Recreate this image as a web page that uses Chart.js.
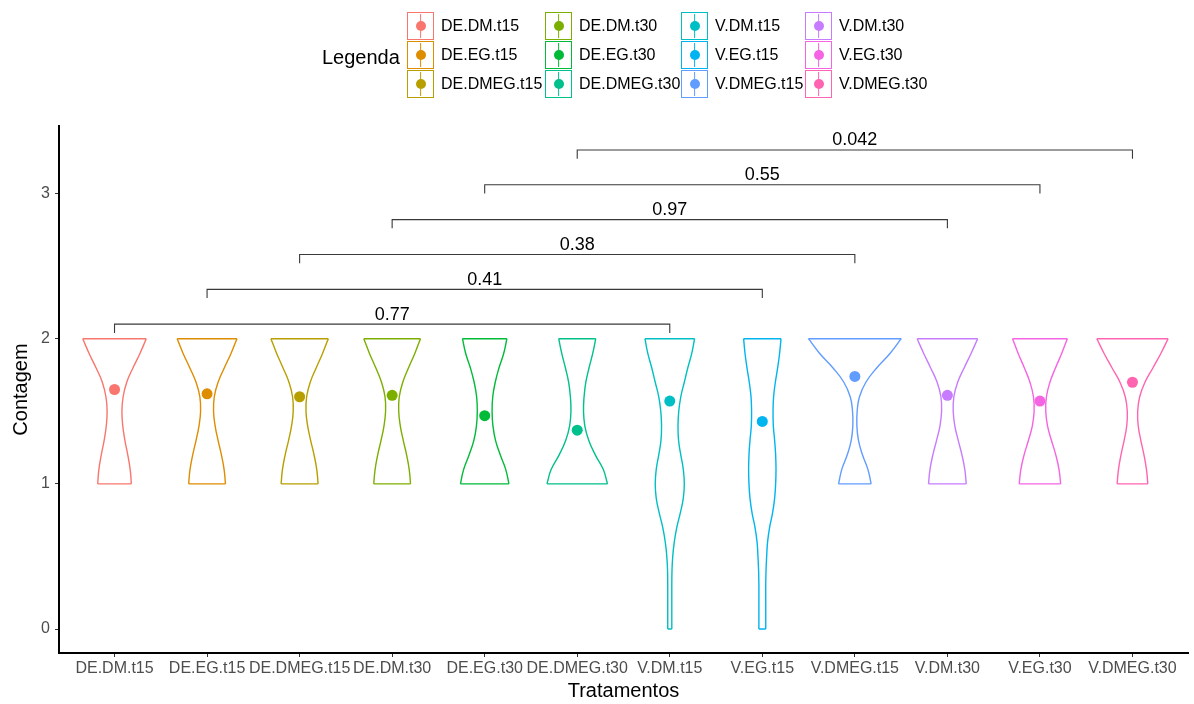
<!DOCTYPE html>
<html>
<head>
<meta charset="utf-8">
<script src="https://cdn.jsdelivr.net/npm/chart.js@4.4.1/dist/chart.umd.min.js"></script>
<style>
  html, body { margin: 0; padding: 0; background: #ffffff; }
  #wrap { position: relative; width: 1194px; height: 704px; overflow: hidden; }
  #chart { position: absolute; left: 0; top: 0; }
  #legend { position: absolute; left: 0; top: 0; width: 1194px; height: 110px; font-family: "Liberation Sans", Arial, sans-serif; }
  .ltitle { position: absolute; left: 322px; top: 45px; line-height: 24px; font-size: 20px; color: #000; }
  .litem { position: absolute; height: 28px; display: flex; align-items: center; }
  .key { position: relative; width: 27px; height: 28px; box-sizing: border-box; border: 1.2px solid; background: #fff; }
  .stem { position: absolute; left: 50%; top: 1px; bottom: 1px; width: 1.8px; transform: translateX(-50%); }
  .dot { position: absolute; left: 50%; top: 50%; width: 10px; height: 10px; border-radius: 50%; transform: translate(-50%, -50%); }
  .txt { margin-left: 7px; font-size: 16px; color: #000; white-space: nowrap; }
</style>
</head>
<body>
<div id="wrap">
  <canvas id="chart" width="1194" height="704"></canvas>
  <div id="legend"></div>
</div>
<script>
// Treatment groups, in axis order
const categories = ['DE.DM.t15', 'DE.EG.t15', 'DE.DMEG.t15', 'DE.DM.t30', 'DE.EG.t30', 'DE.DMEG.t30',
                    'V.DM.t15', 'V.EG.t15', 'V.DMEG.t15', 'V.DM.t30', 'V.EG.t30', 'V.DMEG.t30'];
const seriesColors = ['#F8766D', '#DE8C00', '#B79F00', '#7CAE00', '#00BA38', '#00C08B',
                      '#00BFC4', '#00B4F0', '#619CFF', '#C77CFF', '#F564E3', '#FF64B0'];

// Mean count per group
const meanContagem = [1.65, 1.62, 1.60, 1.61, 1.47, 1.37, 1.57, 1.43, 1.74, 1.61, 1.57, 1.70];

// Y axis tick values
const yTickValues = [0, 1, 2, 3];

// Violin outlines: half-width of the density (in category units),
// sampled every 0.1 from the lowest observed count up to 2
const densityStep = 0.1;
const densityFrom = [1, 1, 1, 1, 1, 1, 0, 0, 1, 1, 1, 1];
const densDE_DM_t15   = [0.182, 0.169, 0.143, 0.112, 0.089, 0.080, 0.093, 0.132, 0.200, 0.276, 0.343];
const densDE_EG_t15   = [0.199, 0.184, 0.155, 0.119, 0.087, 0.070, 0.078, 0.119, 0.187, 0.260, 0.323];
const densDE_DMEG_t15 = [0.200, 0.185, 0.156, 0.119, 0.087, 0.069, 0.076, 0.115, 0.180, 0.249, 0.310];
const densDE_DM_t30   = [0.199, 0.184, 0.156, 0.120, 0.088, 0.071, 0.077, 0.115, 0.177, 0.246, 0.306];
const densDE_EG_t30   = [0.262, 0.227, 0.168, 0.117, 0.089, 0.080, 0.087, 0.114, 0.155, 0.206, 0.240];
const densDE_DMEG_t30 = [0.327, 0.281, 0.195, 0.124, 0.082, 0.068, 0.074, 0.093, 0.128, 0.168, 0.200];
const densV_DM_t15    = [0.022, 0.022, 0.022, 0.022, 0.024, 0.032, 0.049, 0.076, 0.114, 0.146, 0.157,
                         0.146, 0.119, 0.095, 0.089, 0.097, 0.119, 0.157, 0.195, 0.238, 0.268];
const densV_EG_t15    = [0.037, 0.037, 0.037, 0.037, 0.040, 0.047, 0.057, 0.079, 0.111, 0.133, 0.144,
                         0.148, 0.144, 0.133, 0.119, 0.116, 0.122, 0.141, 0.166, 0.187, 0.202];
const densV_DMEG_t15  = [0.176, 0.141, 0.082, 0.039, 0.022, 0.025, 0.050, 0.119, 0.238, 0.382, 0.501];
const densV_DM_t30    = [0.204, 0.188, 0.157, 0.117, 0.080, 0.063, 0.070, 0.111, 0.182, 0.257, 0.327];
const densV_EG_t30    = [0.224, 0.206, 0.171, 0.124, 0.082, 0.063, 0.070, 0.108, 0.169, 0.236, 0.296];
const densV_DMEG_t30  = [0.166, 0.151, 0.124, 0.090, 0.062, 0.056, 0.078, 0.135, 0.222, 0.308, 0.385];
const densityProfiles = [densDE_DM_t15, densDE_EG_t15, densDE_DMEG_t15, densDE_DM_t30, densDE_EG_t30, densDE_DMEG_t30,
                         densV_DM_t15, densV_EG_t15, densV_DMEG_t15, densV_DM_t30, densV_EG_t30, densV_DMEG_t30];

// Pairwise comparisons with their p-values
const compareFrom = ['DE.DM.t15', 'DE.EG.t15', 'DE.DMEG.t15', 'DE.DM.t30', 'DE.EG.t30', 'DE.DMEG.t30'];
const compareTo   = ['V.DM.t15', 'V.EG.t15', 'V.DMEG.t15', 'V.DM.t30', 'V.EG.t30', 'V.DMEG.t30'];
const compareLevel = [2.10, 2.34, 2.58, 2.82, 3.06, 3.30];
const compareP    = ['0.77', '0.41', '0.38', '0.97', '0.55', '0.042'];
const bracketTip = 0.06;

const FONT = '"Liberation Sans", Arial, Helvetica, sans-serif';
const pos = name => categories.indexOf(name) + 1;

const datasets = [];

// group means
datasets.push({
  data: meanContagem.map((m, i) => ({ x: i + 1, y: m })),
  showLine: false,
  pointRadius: 5.5,
  pointBackgroundColor: seriesColors,
  pointBorderWidth: 0,
  order: 0
});

// brackets
compareFrom.forEach((a, k) => {
  const xa = pos(a), xb = pos(compareTo[k]), lv = compareLevel[k];
  datasets.push({
    data: [{ x: xa, y: lv - bracketTip }, { x: xa, y: lv }, { x: xb, y: lv }, { x: xb, y: lv - bracketTip }],
    borderColor: '#3a3a3a',
    borderWidth: 1.1,
    pointRadius: 0,
    tension: 0,
    order: 1
  });
});

// violins: two smooth sides plus the flat trimmed ends
densityProfiles.forEach((w, i) => {
  const c = i + 1;
  const ys = w.map((_, k) => +(densityFrom[i] + k * densityStep).toFixed(2));
  [-1, 1].forEach(side => {
    datasets.push({
      data: w.map((h, k) => ({ x: c + side * h, y: ys[k] })),
      tension: 0.45,
      borderColor: seriesColors[i],
      borderWidth: 1.4,
      pointRadius: 0,
      fill: false,
      order: 2
    });
  });
  const n = w.length - 1;
  datasets.push({
    data: [{ x: c - w[n], y: ys[n] }, { x: c + w[n], y: ys[n] }, { x: null, y: null },
           { x: c - w[0], y: ys[0] }, { x: c + w[0], y: ys[0] }],
    borderColor: seriesColors[i],
    borderWidth: 1.4,
    pointRadius: 0,
    tension: 0,
    spanGaps: false,
    order: 2
  });
});

// p-value labels above the brackets
const pValueLabels = {
  id: 'pValueLabels',
  afterDatasetsDraw(chart) {
    const { ctx, scales } = chart;
    ctx.save();
    ctx.font = '18px ' + FONT;
    ctx.fillStyle = '#000';
    ctx.textAlign = 'center';
    ctx.textBaseline = 'alphabetic';
    compareFrom.forEach((a, k) => {
      const mid = (pos(a) + pos(compareTo[k])) / 2;
      ctx.fillText(compareP[k], scales.x.getPixelForValue(mid), scales.y.getPixelForValue(compareLevel[k]) - 4.5);
    });
    ctx.restore();
  }
};

new Chart(document.getElementById('chart'), {
  type: 'line',
  data: { datasets },
  options: {
    responsive: false,
    animation: false,
    events: [],
    layout: { padding: { top: 126, right: 6, bottom: 0, left: 0 } },
    plugins: { legend: { display: false }, tooltip: { enabled: false } },
    scales: {
      x: {
        type: 'linear',
        min: 0.4,
        max: 12.6,
        afterBuildTicks: s => { s.ticks = categories.map((_, i) => ({ value: i + 1 })); },
        afterFit: s => { s.height = 51; },
        ticks: {
          autoSkip: false,
          maxRotation: 0,
          minRotation: 0,
          padding: 2,
          color: '#4d4d4d',
          font: { family: FONT, size: 16 },
          callback: v => categories[Math.round(v) - 1]
        },
        grid: { drawOnChartArea: false, drawTicks: true, tickLength: 4, color: '#333333', lineWidth: 1 },
        border: { display: true, color: '#000000', width: 2 },
        title: { display: true, text: 'Tratamentos', color: '#000', font: { family: FONT, size: 20 }, padding: { top: 0, bottom: 1 } }
      },
      y: {
        type: 'linear',
        min: -0.165,
        max: 3.465,
        afterBuildTicks: s => { s.ticks = yTickValues.map(v => ({ value: v })); },
        afterFit: s => { s.width = 59; },
        ticks: {
          padding: 5,
          color: '#4d4d4d',
          font: { family: FONT, size: 16 },
          callback: v => String(v)
        },
        grid: { drawOnChartArea: false, drawTicks: true, tickLength: 4, color: '#333333', lineWidth: 1 },
        border: { display: true, color: '#000000', width: 2 },
        title: { display: true, text: 'Contagem', color: '#000', font: { family: FONT, size: 20 }, padding: { top: 9, bottom: 0 } }
      }
    }
  },
  plugins: [pValueLabels]
});

// legend: three rows per column, filled column by column
const legendColX = [407, 545, 681, 805];
const legendTop = 12, legendRowH = 29;
const legend = document.getElementById('legend');
const lt = document.createElement('div');
lt.className = 'ltitle';
lt.textContent = 'Legenda';
legend.appendChild(lt);
categories.forEach((name, i) => {
  const col = Math.floor(i / 3), row = i % 3;
  const item = document.createElement('div');
  item.className = 'litem';
  item.style.left = legendColX[col] + 'px';
  item.style.top = (legendTop + row * legendRowH) + 'px';
  const key = document.createElement('span');
  key.className = 'key';
  key.style.borderColor = seriesColors[i];
  const stem = document.createElement('i');
  stem.className = 'stem';
  stem.style.background = seriesColors[i];
  const dot = document.createElement('b');
  dot.className = 'dot';
  dot.style.background = seriesColors[i];
  key.appendChild(stem);
  key.appendChild(dot);
  const txt = document.createElement('span');
  txt.className = 'txt';
  txt.textContent = name;
  item.appendChild(key);
  item.appendChild(txt);
  legend.appendChild(item);
});
</script>
</body>
</html>
